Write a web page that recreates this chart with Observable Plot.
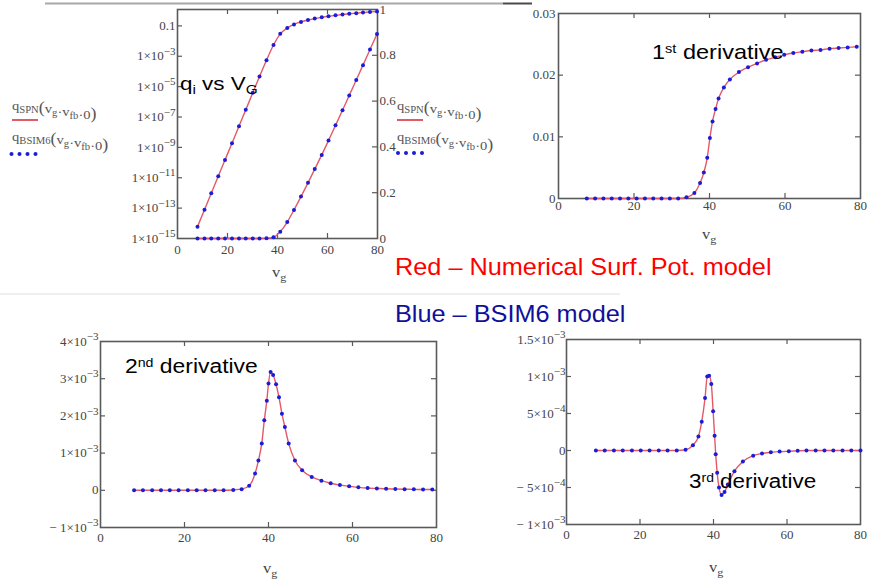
<!DOCTYPE html>
<html><head><meta charset="utf-8">
<script src="https://cdn.jsdelivr.net/npm/d3@7"></script>
<script src="https://cdn.jsdelivr.net/npm/@observablehq/plot@0.6"></script>
<style>
body{margin:0;background:#fff;}
#wrap{position:relative;width:871px;height:579px;overflow:hidden;background:#fff;}
.pane{position:absolute;}
.pane svg{overflow:visible;}
</style></head><body><div id="wrap"></div>
<script>
// ---------- data ----------
const xTicks = [0, 20, 40, 60, 80];
const xInner = [20, 40, 60];

// panel 1: q_i vs v_g (same values on log left axis and linear right axis)
const vg1 = [8, 10.8, 13.5, 16.3, 19, 21.8, 24.6, 27.3, 30.1, 32.8, 35.6, 38.4, 41.1, 43.9, 46.6, 49.4, 52.2, 54.9, 57.7, 60.4, 63.2, 66, 68.7, 71.5, 74.2, 77, 79.8];
const q1 = [6.0e-15, 7.9e-14, 9.5e-13, 1.26e-11, 1.48e-10, 1.9e-9, 2.5e-8, 2.95e-7, 3.9e-6, 4.6e-5, 5.5e-4, 0.0055, 0.03, 0.072, 0.125, 0.183, 0.243, 0.303, 0.365, 0.428, 0.494, 0.56, 0.625, 0.692, 0.757, 0.825, 0.893];
const p1LogTicks = [1e-15, 1e-13, 1e-11, 1e-9, 1e-7, 1e-5, 1e-3, 0.1];
const p1LogLabels = ["1×10^−15", "1×10^−13", "1×10^−11", "1×10^−9", "1×10^−7", "1×10^−5", "1×10^−3", "0.1"];
const p1LinTicks = [0, 0.2, 0.4, 0.6, 0.8, 1];
const p1LinLabels = ["0", "0.2", "0.4", "0.6", "0.8", "1"];

// panel 2: 1st derivative
const vg2 = [7.5, 9.7, 11.9, 14.1, 16.3, 18.5, 20.7, 22.9, 25.1, 27.3, 29.5, 31.7, 33.9, 36.0, 37.5, 38.5, 39.4, 40.1, 40.8, 41.6, 42.4, 43.8, 45.4, 47.8, 50.2, 52.6, 55.0, 57.4, 59.8, 62.2, 64.6, 67.0, 69.4, 71.8, 74.2, 76.6, 79.0];
const d1 = [0, 0, 0, 0, 0, 0, 0, 0, 0, 0, 0, 0, 0.0002, 0.0009, 0.0025, 0.0042, 0.0066, 0.0098, 0.0125, 0.0145, 0.0162, 0.018, 0.0193, 0.0205, 0.0213, 0.0219, 0.0225, 0.0229, 0.0233, 0.0236, 0.0238, 0.024, 0.0241, 0.0243, 0.0244, 0.0245, 0.0246];
const p2Ticks = [0, 0.01, 0.02, 0.03];
const p2Labels = ["0", "0.01", "0.02", "0.03"];

// panel 3: 2nd derivative
const vg3 = [8.0, 10.1, 12.3, 14.4, 16.5, 18.6, 20.8, 22.9, 25.0, 27.2, 29.3, 31.6, 33.6, 35.4, 36.8, 37.6, 38.4, 39.0, 39.6, 40.0, 40.5, 41.1, 41.8, 42.5, 43.2, 43.9, 44.8, 46.3, 48.0, 50.3, 52.6, 54.8, 57.0, 59.2, 61.4, 63.6, 65.8, 68.0, 70.2, 72.4, 74.6, 76.8, 79.0];
const d2 = [0, 0, 0, 0, 0, 0, 0, 0, 0, 0, 0, 0.01e-3, 0.03e-3, 0.12e-3, 0.45e-3, 0.8e-3, 1.26e-3, 1.88e-3, 2.41e-3, 2.87e-3, 3.18e-3, 3.1e-3, 2.85e-3, 2.5e-3, 2.06e-3, 1.7e-3, 1.26e-3, 0.8e-3, 0.54e-3, 0.36e-3, 0.26e-3, 0.19e-3, 0.14e-3, 0.11e-3, 0.08e-3, 0.06e-3, 0.05e-3, 0.04e-3, 0.035e-3, 0.03e-3, 0.025e-3, 0.02e-3, 0.02e-3];
const p3Ticks = [-1e-3, 0, 1e-3, 2e-3, 3e-3, 4e-3];
const p3Labels = ["− 1×10^−3", "0", "1×10^−3", "2×10^−3", "3×10^−3", "4×10^−3"];

// panel 4: 3rd derivative
const vg4 = [8.0, 10.4, 12.9, 15.3, 17.8, 20.2, 22.6, 25.1, 27.5, 30.0, 32.4, 34.4, 35.9, 36.8, 37.7, 38.3, 38.8, 39.4, 39.9, 40.3, 40.6, 41.0, 41.5, 42.2, 43.0, 43.9, 45.7, 48.0, 50.8, 53.2, 55.6, 58.0, 60.5, 62.9, 65.3, 67.8, 70.2, 72.6, 75.1, 77.5, 80.0];
const d3 = [0, 0, 0, 0, 0, 0, 0, 0, 0, 0, 0.01e-3, 0.07e-3, 0.19e-3, 0.39e-3, 0.71e-3, 1.0e-3, 1.01e-3, 0.9e-3, 0.53e-3, 0.2e-3, -0.05e-3, -0.3e-3, -0.5e-3, -0.6e-3, -0.56e-3, -0.46e-3, -0.28e-3, -0.15e-3, -0.07e-3, -0.04e-3, -0.025e-3, -0.015e-3, -0.01e-3, -0.005e-3, 0, 0, 0, 0, 0, 0, 0];
const p4Ticks = [-1e-3, -5e-4, 0, 5e-4, 1e-3, 1.5e-3];
const p4Labels = ["− 1×10^−3", "− 5×10^−4", "0", "5×10^−4", "1×10^−3", "1.5×10^−3"];

// ---------- drawing ----------
const RED = "#e25a68", BLUE = "#1c1cd6", FRAME = "#5a5a5a", LABEL = "#444";
const wrap = document.getElementById("wrap");
const NS = "http://www.w3.org/2000/svg";
const zip = (xs, ys) => xs.map((x, i) => ({vg: x, v: ys[i]}));

function supLabels(svg) {
  svg.querySelectorAll('[aria-label="y-axis tick label"] text').forEach(t => {
    const s = t.textContent, i = s.indexOf("^");
    if (i < 0) return;
    t.textContent = "";
    const a = document.createElementNS(NS, "tspan"); a.textContent = s.slice(0, i);
    const b = document.createElementNS(NS, "tspan"); b.textContent = s.slice(i + 1);
    b.setAttribute("dy", "-0.5em"); b.setAttribute("font-size", "0.85em");
    t.append(a, b);
  });
}

function makePlot(c) {
  const iw = c.width - c.ml - c.mr, ih = c.height - c.mt - c.mb;
  const marks = [];
  if (c.frame) marks.push(Plot.frame({stroke: FRAME, strokeWidth: 1.6}));
  if (c.showX) marks.push(Plot.axisX({ticks: xTicks, tickFormat: d => String(d), tickSize: 0, tickPadding: c.xPad, label: null, fontSize: 13, fill: LABEL}));
  marks.push(Plot.axisY({anchor: c.yAnchor, ticks: c.yTicks, tickFormat: d => c.yLabels[c.yTicks.indexOf(d)], tickSize: 0, tickPadding: c.yPad, label: null, fontSize: 13, fill: LABEL}));
  if (c.innerX) {
    marks.push(Plot.tickX(c.innerX, {x: d => d, insetBottom: ih - 5, stroke: FRAME, strokeWidth: 1.2}));
    marks.push(Plot.tickX(c.innerX, {x: d => d, insetTop: ih - 5, stroke: FRAME, strokeWidth: 1.2}));
  }
  if (c.innerLeft) marks.push(Plot.tickY(c.innerLeft, {y: d => d, insetRight: iw - 5, stroke: FRAME, strokeWidth: 1.2}));
  if (c.innerRight) marks.push(Plot.tickY(c.innerRight, {y: d => d, insetLeft: iw - 5, stroke: FRAME, strokeWidth: 1.2}));
  marks.push(Plot.line(c.data, {x: "vg", y: "v", stroke: RED, strokeWidth: 1.4, curve: "monotone-x"}));
  marks.push(Plot.dot(c.data, {x: "vg", y: "v", r: 2, fill: BLUE, stroke: "none"}));
  const svg = Plot.plot({
    width: c.width, height: c.height,
    marginLeft: c.ml, marginRight: c.mr, marginTop: c.mt, marginBottom: c.mb,
    x: {domain: [0, 80], axis: c.showX ? undefined : null},
    y: {type: c.yType || "linear", domain: c.yDomain},
    style: {fontFamily: "Liberation Serif", fontSize: "13px", color: LABEL, background: "transparent", overflow: "visible"},
    marks
  });
  supLabels(svg);
  const div = document.createElement("div");
  div.className = "pane";
  div.style.left = c.left + "px"; div.style.top = c.top + "px";
  div.appendChild(svg);
  wrap.appendChild(div);
}

// panel 1 (log, left axis) + overlay (linear, right axis)
const data1 = zip(vg1, q1);
makePlot({left: 120, top: 0, width: 290, height: 290, ml: 57, mr: 33, mt: 9, mb: 52,
  frame: true, showX: true, xPad: 6, yType: "log", yDomain: [1e-15, 1.2], yAnchor: "left",
  yTicks: p1LogTicks, yLabels: p1LogLabels, yPad: 2, innerX: xInner,
  innerLeft: p1LogTicks.slice(1), data: data1});
makePlot({left: 120, top: 0, width: 290, height: 290, ml: 57, mr: 33, mt: 9, mb: 52,
  frame: false, showX: false, yDomain: [0, 1], yAnchor: "right",
  yTicks: p1LinTicks, yLabels: p1LinLabels, yPad: 2,
  innerRight: [0.2, 0.4, 0.6, 0.8], data: data1});

// panel 2
makePlot({left: 500, top: 0, width: 371, height: 250, ml: 58, mr: 11, mt: 13, mb: 52,
  frame: true, showX: true, xPad: 2, yDomain: [0, 0.03], yAnchor: "left",
  yTicks: p2Ticks, yLabels: p2Labels, yPad: 3, innerX: xInner,
  innerLeft: [0.01, 0.02], innerRight: [0.01, 0.02], data: zip(vg2, d1)});

// panel 3
makePlot({left: 40, top: 330, width: 406, height: 249, ml: 60, mr: 10, mt: 11, mb: 52,
  frame: true, showX: true, xPad: 5, yDomain: [-1e-3, 4e-3], yAnchor: "left",
  yTicks: p3Ticks, yLabels: p3Labels, yPad: 2, innerX: xInner,
  innerLeft: [0, 1e-3, 2e-3, 3e-3], innerRight: [0, 1e-3, 2e-3, 3e-3], data: zip(vg3, d2)});

// panel 4
makePlot({left: 500, top: 330, width: 371, height: 249, ml: 66, mr: 11, mt: 9, mb: 55,
  frame: true, showX: true, xPad: 5, yDomain: [-1e-3, 1.5e-3], yAnchor: "left",
  yTicks: p4Ticks, yLabels: p4Labels, yPad: 1, innerX: xInner,
  innerLeft: [-5e-4, 0, 5e-4, 1e-3], innerRight: [-5e-4, 0, 5e-4, 1e-3], data: zip(vg4, d3)});

// ---------- annotations overlay ----------
const sans = "font-family:'Liberation Sans',Arial,sans-serif";
const serif = "font-family:'Liberation Serif','Times New Roman',serif";
function vgLabel(x, y) {
  return `<text transform="translate(${x},${y}) scale(1.1,1)" style="${serif};font-size:15px" fill="#444">v<tspan dy="4" font-size="11">g</tspan></text>`;
}
function legend(x, y1, y2, sw, dotsX, dotY) {
  const par = s => `<tspan font-size="16">${s}</tspan>`;
  const sub = (s) => `<tspan dy="3" font-size="9.5">${s}</tspan><tspan dy="-3"></tspan>`;
  let s = `<text transform="translate(${x},${y1}) scale(1.12,1)" style="${serif};font-size:13px" fill="#555">q${sub("SPN")}${par("(")}v${sub("g")}·v${sub("fb")}·0${par(")")}</text>`;
  s += `<text transform="translate(${x},${y2}) scale(1.12,1)" style="${serif};font-size:13px" fill="#555">q${sub("BSIM6")}${par("(")}v${sub("g")}·v${sub("fb")}·0${par(")")}</text>`;
  s += `<line x1="${sw[0]}" x2="${sw[1]}" y1="${sw[2]}" y2="${sw[2]}" stroke="${RED}" stroke-width="2"/>`;
  dotsX.forEach(cx => { s += `<circle cx="${cx}" cy="${dotY}" r="2" fill="${BLUE}"/>`; });
  return s;
}
function deriv(x, y, n, sup, fs, sx) {
  return `<text transform="translate(${x},${y}) scale(${sx},1)" style="${sans};font-size:${fs}px" fill="#000">${n}<tspan dy="-0.45em" font-size="0.62em">${sup}</tspan><tspan dy="0.28em"> derivative</tspan></text>`;
}
const ov = `<svg xmlns="${NS}" width="871" height="579" style="position:absolute;left:0;top:0;pointer-events:none">
<line x1="45" x2="503" y1="3.5" y2="3.5" stroke="#a8a8a8" stroke-width="2"/>
<line x1="503" x2="532" y1="3.5" y2="3.5" stroke="#4a4a4a" stroke-width="2"/>
<line x1="0" x2="620" y1="294" y2="294" stroke="#efefef" stroke-width="2"/>
<text transform="translate(180,90) scale(1.18,1)" style="${sans};font-size:19px" fill="#000">q<tspan dy="4" font-size="13">i</tspan><tspan dy="-4"> vs V</tspan><tspan dy="4" font-size="13">G</tspan></text>
${deriv(652, 59, "1", "st", 21, 1.12)}
${deriv(125, 373, "2", "nd", 21, 1.09)}
${deriv(689, 488, "3", "rd", 21, 1.07)}
<text transform="translate(395,275) scale(1.1,1)" style="${sans};font-size:23px" fill="#ff0000">Red – Numerical Surf. Pot. model</text>
<text transform="translate(395,322) scale(1.1,1)" style="${sans};font-size:23px" fill="#10109a">Blue – BSIM6 model</text>
${vgLabel(272, 277)}
${vgLabel(702, 239)}
${vgLabel(263, 573)}
${vgLabel(709, 572)}
${legend(12, 110, 141, [12, 38, 120], [11.5, 19.5, 27.5, 35.5], 154)}
${legend(397, 110, 141, [397, 423, 120], [398, 406, 414, 422], 153)}
</svg>`;
wrap.insertAdjacentHTML("beforeend", ov);
</script>
</body></html>
